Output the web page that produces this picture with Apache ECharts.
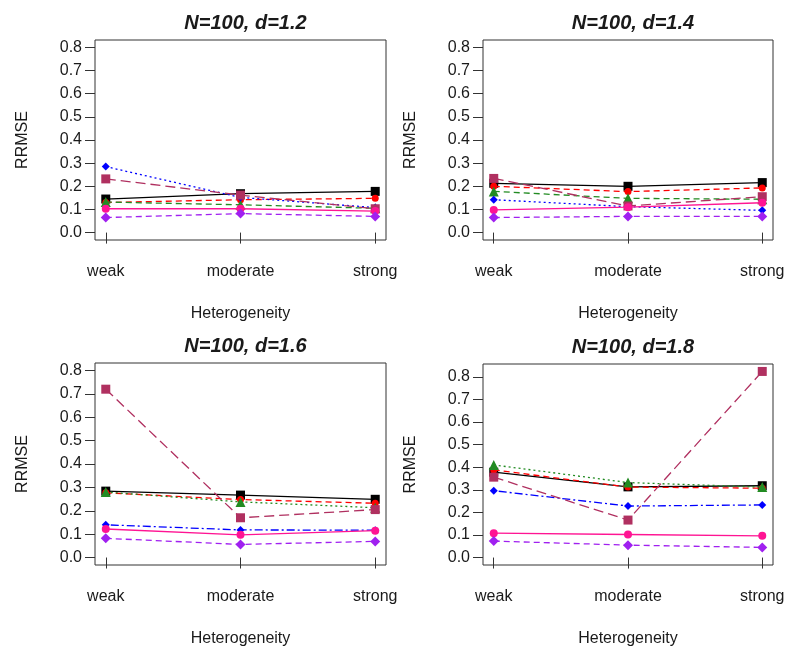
<!DOCTYPE html>
<html><head><meta charset="utf-8">
<script src="https://cdn.jsdelivr.net/npm/echarts@6/dist/echarts.min.js"></script>
<style>html,body{margin:0;padding:0;background:#fff}#c{width:785px;height:647px}</style>
</head><body><div id="c"></div>
<script>
// ---- data ----
const categories = ['weak', 'moderate', 'strong'];
const panelTitles = ['N=100, d=1.2', 'N=100, d=1.4', 'N=100, d=1.6', 'N=100, d=1.8'];
const yTickValues = [0, 0.1, 0.2, 0.3, 0.4, 0.5, 0.6, 0.7, 0.8];
const yLimUpper = [0.8, 0.8, 0.8, 0.824];
// each row = one panel (d=1.2, 1.4, 1.6, 1.8), values at weak / moderate / strong
const blackVals  = [[0.145, 0.168, 0.178], [0.213, 0.200, 0.216], [0.284, 0.267, 0.249], [0.378, 0.313, 0.318]];
const redVals    = [[0.130, 0.142, 0.148], [0.200, 0.177, 0.193], [0.277, 0.248, 0.232], [0.388, 0.312, 0.307]];
const greenVals  = [[0.132, 0.120, 0.105], [0.178, 0.148, 0.144], [0.280, 0.238, 0.213], [0.410, 0.332, 0.312]];
const blueVals   = [[0.285, 0.152, 0.108], [0.142, 0.112, 0.096], [0.140, 0.118, 0.117], [0.296, 0.228, 0.233]];
const maroonVals = [[0.232, 0.162, 0.103], [0.234, 0.115, 0.155], [0.720, 0.170, 0.205], [0.356, 0.166, 0.824]];
const pinkVals   = [[0.103, 0.103, 0.093], [0.098, 0.110, 0.129], [0.122, 0.097, 0.115], [0.108, 0.102, 0.096]];
const purpleVals = [[0.065, 0.082, 0.070], [0.065, 0.070, 0.070], [0.082, 0.056, 0.069], [0.073, 0.055, 0.045]];

// ---- styles ----
const FONT = '"Liberation Sans", Arial, sans-serif';
const TXT = '#1a1a1a';
const grids = [
  {left: 95, top: 40, width: 291, height: 200},
  {left: 483, top: 40, width: 290, height: 200},
  {left: 95, top: 363, width: 291, height: 202},
  {left: 483, top: 364, width: 290, height: 201}
];
const DASH = [6, 4], LONGDASH = [10, 5], DOT = [2, 3], DASHDOT = [2, 3, 8, 3];
const RDIAMOND = 'path://M0,-1L1,0L0,1L-1,0Z';
const seriesDefs = [
  {vals: blackVals,  color: '#000000', symbol: 'rect',     size: 9,  dash: ['solid','solid','solid','solid']},
  {vals: redVals,    color: '#ff0000', symbol: 'circle',   size: 7,  dash: [DASH, DASH, DASH, DASH]},
  {vals: greenVals,  color: '#228b22', symbol: 'triangle', size: 10, dash: [DASH, DASH, DOT, DOT]},
  {vals: blueVals,   color: '#0000ff', symbol: RDIAMOND,   size: 8,  dash: [DOT, DOT, DASHDOT, DASHDOT]},
  {vals: maroonVals, color: '#b03060', symbol: 'rect',     size: 9,  dash: [LONGDASH, LONGDASH, LONGDASH, LONGDASH]},
  {vals: pinkVals,   color: '#ff1493', symbol: 'circle',   size: 8,  dash: ['solid','solid','solid','solid']},
  {vals: purpleVals, color: '#a020f0', symbol: RDIAMOND,   size: 10, dash: [DASH, DASH, DASH, DASH]}
];

const chart = echarts.init(document.getElementById('c'), null, {renderer: 'canvas'});
const option = {
  animation: false,
  backgroundColor: '#ffffff',
  title: [], grid: [], xAxis: [], yAxis: [], series: []
};

grids.forEach((g, p) => {
  option.grid.push(Object.assign({show: true, borderColor: '#333', borderWidth: 1, backgroundColor: 'transparent', containLabel: false, outerBoundsMode: 'none'}, g));
  option.title.push({
    text: panelTitles[p], left: g.left + g.width / 2, top: g.top - 32, textAlign: 'center',
    textStyle: {fontFamily: FONT, fontSize: 20, fontWeight: 'bold', fontStyle: 'italic', color: TXT}
  });
  const n = categories.length;
  const xPad = (n - 1) * 0.04;
  option.xAxis.push({
    type: 'value', gridIndex: p, min: 1 - xPad, max: n + xPad,
    name: 'Heterogeneity', nameLocation: 'middle', nameGap: 66,
    nameTextStyle: {fontFamily: FONT, fontSize: 16, color: TXT},
    axisLine: {show: false}, splitLine: {show: false},
    axisTick: {show: true, length: 11, customValues: categories.map((c, i) => i + 1), lineStyle: {color: '#333', width: 1}},
    axisLabel: {show: true, margin: 24, fontFamily: FONT, fontSize: 16, color: TXT,
      customValues: categories.map((c, i) => i + 1),
      formatter: v => categories[Math.round(v) - 1] || ''}
  });
  const hi = yLimUpper[p], yPad = hi * 0.04;
  option.yAxis.push({
    type: 'value', gridIndex: p, min: -yPad, max: hi + yPad,
    name: 'RRMSE', nameLocation: 'middle', nameGap: 64, nameRotate: 90,
    nameTextStyle: {fontFamily: FONT, fontSize: 16, color: TXT},
    axisLine: {show: false}, splitLine: {show: false},
    axisTick: {show: true, length: 10, customValues: yTickValues, lineStyle: {color: '#333', width: 1}},
    axisLabel: {show: true, margin: 13, fontFamily: FONT, fontSize: 16, color: TXT,
      customValues: yTickValues, formatter: v => v.toFixed(1)}
  });
  seriesDefs.forEach((s, k) => {
    option.series.push({
      type: 'line', xAxisIndex: p, yAxisIndex: p,
      data: s.vals[p].map((v, i) => [i + 1, v]),
      symbol: s.symbol, symbolSize: s.size, showSymbol: true,
      lineStyle: {color: s.color, width: 1.3, type: s.dash[p]},
      itemStyle: {color: s.color, borderWidth: 0},
      z: 2 + k, silent: true
    });
  });
});

chart.setOption(option);
</script></body></html>
